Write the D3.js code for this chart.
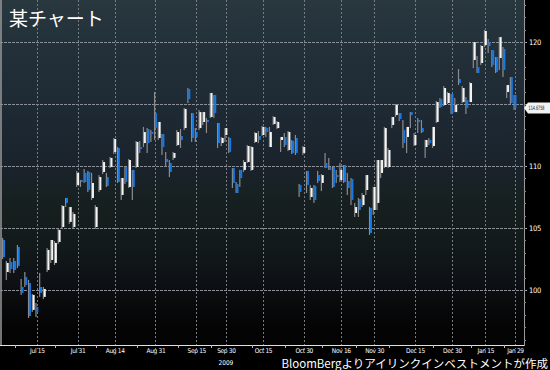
<!DOCTYPE html>
<html>
<head>
<meta charset="utf-8">
<script src="https://cdn.jsdelivr.net/npm/d3@7"></script>
<style>
  body { margin: 0; background: #000; }
  svg { display: block; }
  .tick text { font-family: "DejaVu Sans Condensed", "Liberation Sans", sans-serif; font-stretch: condensed; }
</style>
</head>
<body>
<div id="container"></div>
<script>
// daily candles, Jul 2009 - Jan 2010
const open = [104.03,101.45,102.26,102.34,103.47,100.24,101.05,100.56,98.39,98.63,
  100.24,99.44,101.61,102.42,102.18,103.87,105.08,107.42,105.49,105.08,
  108.47,108.87,109.44,109.52,107.42,105.08,108.06,109.52,109.11,109.92,
  111.13,111.45,107.66,109.92,108.31,109.68,109.92,111.53,111.85,112.98,
  112.74,114.27,112.26,112.58,110.56,110.24,110.65,111.69,112.42,113.06,
  116.21,114.27,112.74,113.06,113.55,113.71,113.95,115.73,113.47,111.85,
  112.50,112.26,109.84,108.55,109.68,109.68,110.32,109.68,111.94,112.42,
  112.50,113.06,111.53,113.39,113.06,112.10,112.34,111.29,112.02,112.26,
  108.47,111.05,109.60,107.50,108.39,109.27,108.63,110.24,109.92,109.92,
  109.27,108.87,110.08,108.79,108.95,106.21,107.34,106.85,108.06,106.61,
  106.45,107.02,109.44,109.92,109.92,113.31,114.11,114.27,112.90,112.34,
  114.35,111.69,113.71,113.06,111.53,112.10,111.61,113.55,115.40,114.92,
  115.08,115.81,114.35,117.02,115.16,115.32,115.16,118.55,117.98,118.31,
  119.76,120.00,119.35,118.79,118.71,119.44,115.97,117.18,115.73]

const high = [104.20,102.34,102.58,102.58,103.63,100.89,101.45,100.81,99.68,98.95,
  101.37,100.24,103.39,104.03,103.95,105.00,106.85,107.42,106.69,106.29,
  109.60,108.87,109.76,109.60,109.44,106.85,109.27,110.48,109.44,110.73,
  112.26,111.53,109.03,109.92,110.56,109.68,112.02,112.02,113.15,113.06,
  112.90,115.97,113.55,112.58,111.13,110.48,111.13,112.90,112.98,114.68,
  116.29,114.27,113.06,114.52,114.35,113.87,115.89,115.73,113.47,112.34,
  113.06,112.34,109.84,108.71,109.68,110.48,111.69,111.61,112.74,112.82,
  113.23,113.15,113.15,114.03,113.63,112.34,112.66,112.82,112.10,112.50,
  108.55,111.61,109.60,108.47,108.47,109.60,109.35,111.05,110.65,109.92,
  109.68,110.24,110.08,109.44,109.03,107.02,107.42,107.82,109.27,106.69,
  108.31,110.48,110.48,113.15,111.45,113.95,115.00,114.27,113.71,113.15,
  114.35,112.66,113.87,113.71,112.10,112.26,113.15,115.24,115.48,116.45,
  115.97,115.81,115.48,117.82,116.45,115.56,116.77,120.00,118.87,119.76,
  120.97,120.24,119.35,118.79,120.40,119.60,116.53,117.18,115.73]

const low = [102.50,100.81,101.37,101.37,101.78,99.60,100.24,97.74,98.23,97.82,
  99.44,99.27,101.45,102.18,102.02,103.71,104.92,106.69,105.33,104.92,
  108.31,108.31,108.63,107.90,107.26,104.92,107.90,109.35,108.31,109.84,
  110.97,108.63,107.26,108.55,108.23,107.26,109.84,111.05,111.53,111.05,
  111.94,112.10,112.10,110.89,109.92,109.11,110.48,111.61,111.45,112.90,
  115.08,111.94,111.94,112.90,113.31,112.66,113.87,113.87,111.45,111.61,
  111.94,111.05,108.23,107.82,108.31,109.52,110.24,109.60,111.85,111.85,
  112.42,112.34,111.53,113.31,112.98,111.13,111.53,111.21,110.97,110.89,
  107.50,110.89,107.82,107.26,107.02,108.63,107.98,109.84,109.68,108.23,
  108.63,108.71,108.63,107.66,106.85,105.89,105.89,106.69,107.66,104.44,
  106.05,106.45,109.03,109.84,109.84,113.06,113.95,113.63,111.45,111.05,
  113.06,111.61,112.66,112.66,110.65,111.69,111.45,113.47,114.68,114.84,
  115.00,114.19,114.35,116.53,115.08,114.19,115.16,117.90,117.50,118.15,
  119.60,119.11,117.98,117.50,117.74,117.18,115.48,114.92,114.52]

const close = [102.66,102.18,101.69,101.61,101.94,99.76,100.40,97.90,99.60,98.23,
  99.76,100.08,103.23,104.03,103.79,104.84,106.77,107.02,106.69,106.13,
  109.44,108.71,108.71,108.06,108.63,106.69,109.11,110.32,108.39,110.65,
  112.18,108.71,109.03,108.71,110.48,108.31,111.94,111.37,112.74,111.85,
  112.58,113.06,113.55,111.53,110.32,109.52,111.05,112.74,112.10,114.60,
  115.40,112.26,112.34,114.35,114.35,113.55,115.89,114.27,111.85,112.26,
  113.06,111.13,108.63,107.82,109.03,110.32,111.61,111.53,112.66,112.10,
  113.15,112.74,112.74,113.95,113.55,112.34,111.69,112.74,111.05,111.05,
  107.90,111.53,108.47,108.23,107.26,108.79,109.27,109.84,109.68,108.31,
  109.11,109.68,108.71,108.23,107.26,106.69,106.45,107.66,109.27,104.60,
  108.31,110.48,110.48,113.06,111.29,113.95,114.92,113.79,111.85,113.15,
  114.11,112.50,113.55,112.74,112.10,111.85,113.15,115.16,114.76,116.29,
  115.89,114.27,114.92,116.69,116.29,114.68,116.69,120.00,117.50,119.68,
  120.89,119.68,118.15,117.58,120.40,117.74,116.53,115.08,114.6758]

// x axis: candle index of each labelled date
const tickIdx = [9, 20, 30, 41, 52, 60, 70, 81, 91, 100, 111, 121, 130, 138]
const tickLabels = ['Jul 15', 'Jul 31', 'Aug 14', 'Aug 31', 'Sep 15', 'Sep 30', 'Oct 15',
  'Oct 30', 'Nov 16', 'Nov 30', 'Dec 15', 'Dec 30', 'Jan 15', 'Jan 29']
const minorIdx = [3, 14, 25, 36, 47, 56, 67, 76, 86, 95, 104, 116, 126, 135]
const yearLabel = '2009'
const yTicks = [100, 105, 110, 115, 120]

const title = '某チャート'
const caption = 'BloomBergよりアイリンクインベストメントが作成'

const W = 550, H = 370
const plotR = 524, plotB = 345

const x = d3.scaleLinear().domain([0, close.length - 1]).range([3.5, 515])
const y = d3.scaleLinear().domain([95.56, 123.39]).range([plotB, 0])

const svg = d3.select('#container').append('svg')
  .attr('width', W).attr('height', H)

svg.append('rect').attr('width', W).attr('height', H).attr('fill', '#000')

//background gradient of the plot
const grad = svg.append('defs').append('linearGradient')
  .attr('id', 'bg').attr('x1', 0).attr('y1', 0).attr('x2', 0).attr('y2', 1)
const stops = [[0, '#29373f'], [0.12, '#23313a'], [0.3, '#1e2a34'], [0.48, '#1a232c'],
  [0.58, '#172020'], [0.7, '#131b1a'], [0.79, '#0f1318'], [0.87, '#0a0b0d'], [0.95, '#040404'], [1, '#030303']]
stops.forEach(s => grad.append('stop').attr('offset', s[0]).attr('stop-color', s[1]))

svg.append('rect')
  .attr('x', 0).attr('y', 0).attr('width', plotR).attr('height', plotB)
  .attr('fill', 'url(#bg)')

//left border
svg.append('line')
  .attr('x1', 1).attr('x2', 1).attr('y1', 0).attr('y2', plotB)
  .attr('stroke', '#9a9a9a').attr('stroke-width', 1.5)

//horizontal grid
svg.append('g').selectAll('line')
  .data(yTicks).enter().append('line')
  .attr('x1', 0).attr('x2', plotR)
  .attr('y1', d => Math.round(y(d)) + 0.5).attr('y2', d => Math.round(y(d)) + 0.5)
  .attr('stroke', '#8a9096').attr('stroke-dasharray', '3,1')

//vertical grid
svg.append('g').selectAll('line')
  .data(tickIdx).enter().append('line')
  .attr('x1', d => Math.round(x(d)) + 0.5).attr('x2', d => Math.round(x(d)) + 0.5)
  .attr('y1', 0).attr('y2', plotB + 4)
  .attr('stroke', '#757c82').attr('stroke-dasharray', '2,2')

//candles
const idx = d3.range(close.length)
const candles = svg.append('g').selectAll('g')
  .data(idx).enter().append('g')

candles.append('rect')
  .attr('x', i => x(i) - 1.5)
  .attr('width', 1.2)
  .attr('y', i => y(high[i]))
  .attr('height', i => Math.max(1, y(low[i]) - y(high[i])))
  .attr('fill', '#8c8c8c')

candles.append('rect')
  .attr('x', i => x(i) - 0.5)
  .attr('width', 2)
  .attr('y', i => y(Math.max(open[i], close[i])))
  .attr('height', i => Math.max(1, Math.abs(y(open[i]) - y(close[i]))))
  .attr('fill', i => close[i] >= open[i] ? '#f4f4f4' : '#1679e6')

//title
svg.append('text')
  .attr('x', 9).attr('y', 26)
  .attr('fill', '#fff')
  .attr('font-family', '"Noto Sans CJK JP", sans-serif')
  .attr('font-size', 19)
  .text(title)

//bottom axis
const xAxis = d3.axisBottom(x)
  .tickValues(tickIdx)
  .tickFormat((d, i) => tickLabels[i])
  .tickSize(0)
  .tickPadding(3)

const gx = svg.append('g')
  .attr('transform', `translate(0,${plotB})`)
  .call(xAxis)
gx.select('.domain').attr('stroke', '#e0e0e0').attr('d', `M0,0.5H${plotR}`)
gx.selectAll('text').attr('fill', '#fff').attr('font-size', 6.5).attr('letter-spacing', -0.3)

gx.append('g').selectAll('line')
  .data(minorIdx).enter().append('line')
  .attr('x1', d => Math.round(x(d)) + 0.5).attr('x2', d => Math.round(x(d)) + 0.5)
  .attr('y1', 0).attr('y2', 3)
  .attr('stroke', '#bbb')

svg.append('text')
  .attr('x', x(tickIdx[5])).attr('y', 365)
  .attr('text-anchor', 'middle')
  .attr('fill', '#fff')
  .attr('font-family', '"DejaVu Sans Condensed", "Liberation Sans", sans-serif')
  .attr('font-size', 6.5)
  .text(yearLabel)

//last value, its marker hides the tick label below it
const last = close[close.length - 1]
const ly = y(last)

//right axis
const yAxis = d3.axisRight(y)
  .tickValues(yTicks)
  .tickSize(3)
  .tickPadding(2)
const gy = svg.append('g')
  .attr('transform', `translate(${plotR},0)`)
  .call(yAxis)
gy.select('.domain').attr('stroke', '#9a9a9a').attr('d', `M0.5,0V${plotB + 1}`)
gy.selectAll('.tick line').attr('stroke', '#bbb')
gy.selectAll('text').attr('fill', '#fff').attr('font-size', 7.5).attr('letter-spacing', -0.3)
gy.selectAll('.tick').filter(d => Math.abs(y(d) - ly) < 10).select('text').remove()

const yMinor = d3.range(96, 124)
gy.append('g').selectAll('line')
  .data(yMinor).enter().append('line')
  .attr('x1', 0).attr('x2', 2)
  .attr('y1', d => Math.round(y(d)) + 0.5).attr('y2', d => Math.round(y(d)) + 0.5)
  .attr('stroke', '#888')

svg.append('path')
  .attr('d', `M${plotR},${ly}L${plotR + 4},${ly - 5.5}H${W}V${ly + 5.5}H${plotR + 4}Z`)
  .attr('fill', '#f2f2f2')
svg.append('g')
  .attr('transform', `translate(${plotR + 4.5},${ly + 2.2}) scale(0.62,1)`)
  .append('text')
  .attr('fill', '#111')
  .attr('font-family', '"DejaVu Sans Condensed", "Liberation Sans", sans-serif')
  .attr('font-size', 6)
  .text(d3.format('.4f')(last))

//caption
svg.append('text')
  .attr('x', 548).attr('y', 368)
  .attr('text-anchor', 'end')
  .attr('fill', '#fff')
  .attr('font-family', '"Noto Sans CJK JP", sans-serif')
  .attr('font-size', 11.5)
  .text(caption)
</script>
</body>
</html>
